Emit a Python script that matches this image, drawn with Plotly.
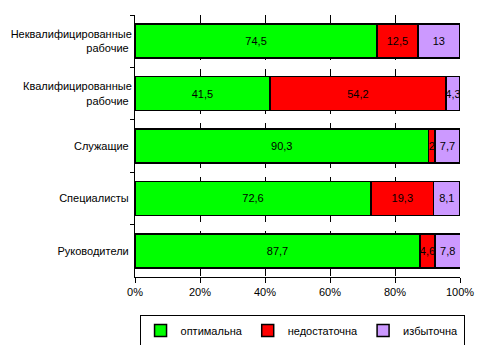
import plotly.graph_objects as go

categories = ["Неквалифицированные<br>рабочие", "Квалифицированные<br>рабочие",
              "Служащие", "Специалисты", "Руководители"]
optimal = [74.5, 41.5, 90.3, 72.6, 87.7]
lacking = [12.5, 54.2, 2, 19.3, 4.6]
excess = [13, 4.3, 7.7, 8.1, 7.8]
series_names = ["оптимальна", "недостаточна", "избыточна"]
colors = ["#00FF00", "#FF0000", "#CC99FF"]
x_ticks = [0, 20, 40, 60, 80, 100]
x_tick_labels = ["0%", "20%", "40%", "60%", "80%", "100%"]

def fmt(v):
    return f"{v:g}".replace(".", ",")

fig = go.Figure()
for name, vals, col in zip(series_names, [optimal, lacking, excess], colors):
    fig.add_trace(go.Bar(
        y=categories, x=vals, name=name, orientation="h",
        marker=dict(color=col, line=dict(color="black", width=1.5)),
        text=[fmt(v) for v in vals], textposition="inside", textangle=0,
        insidetextanchor="middle", constraintext="none",
        textfont=dict(family="Liberation Sans, Arial", size=11, color="black"),
    ))

fig.update_layout(
    barmode="stack", bargap=0.35,
    width=497, height=345,
    margin=dict(l=135, r=37, t=15, b=68, autoexpand=False),
    paper_bgcolor="white", plot_bgcolor="white",
    font=dict(family="Liberation Sans, Arial", size=11, color="black"),
    showlegend=True,
    legend=dict(orientation="h", x=0.514, xanchor="center", y=-0.145, yanchor="top",
                bordercolor="black", borderwidth=1, font=dict(size=11),
                traceorder="normal", itemwidth=30),
)
fig.update_xaxes(range=[0, 100], tickvals=x_ticks, ticktext=x_tick_labels,
                 showgrid=True, gridcolor="black", griddash="dash", gridwidth=1,
                 showline=True, linecolor="black", linewidth=1,
                 ticks="outside", ticklen=5, tickcolor="black", zeroline=False)
fig.update_yaxes(autorange="reversed", showline=True, linecolor="black", linewidth=1,
                 ticks="outside", tickson="boundaries", ticklen=4, tickcolor="black",
                 showgrid=False, ticksuffix=" ")
fig.write_html("out.html")
